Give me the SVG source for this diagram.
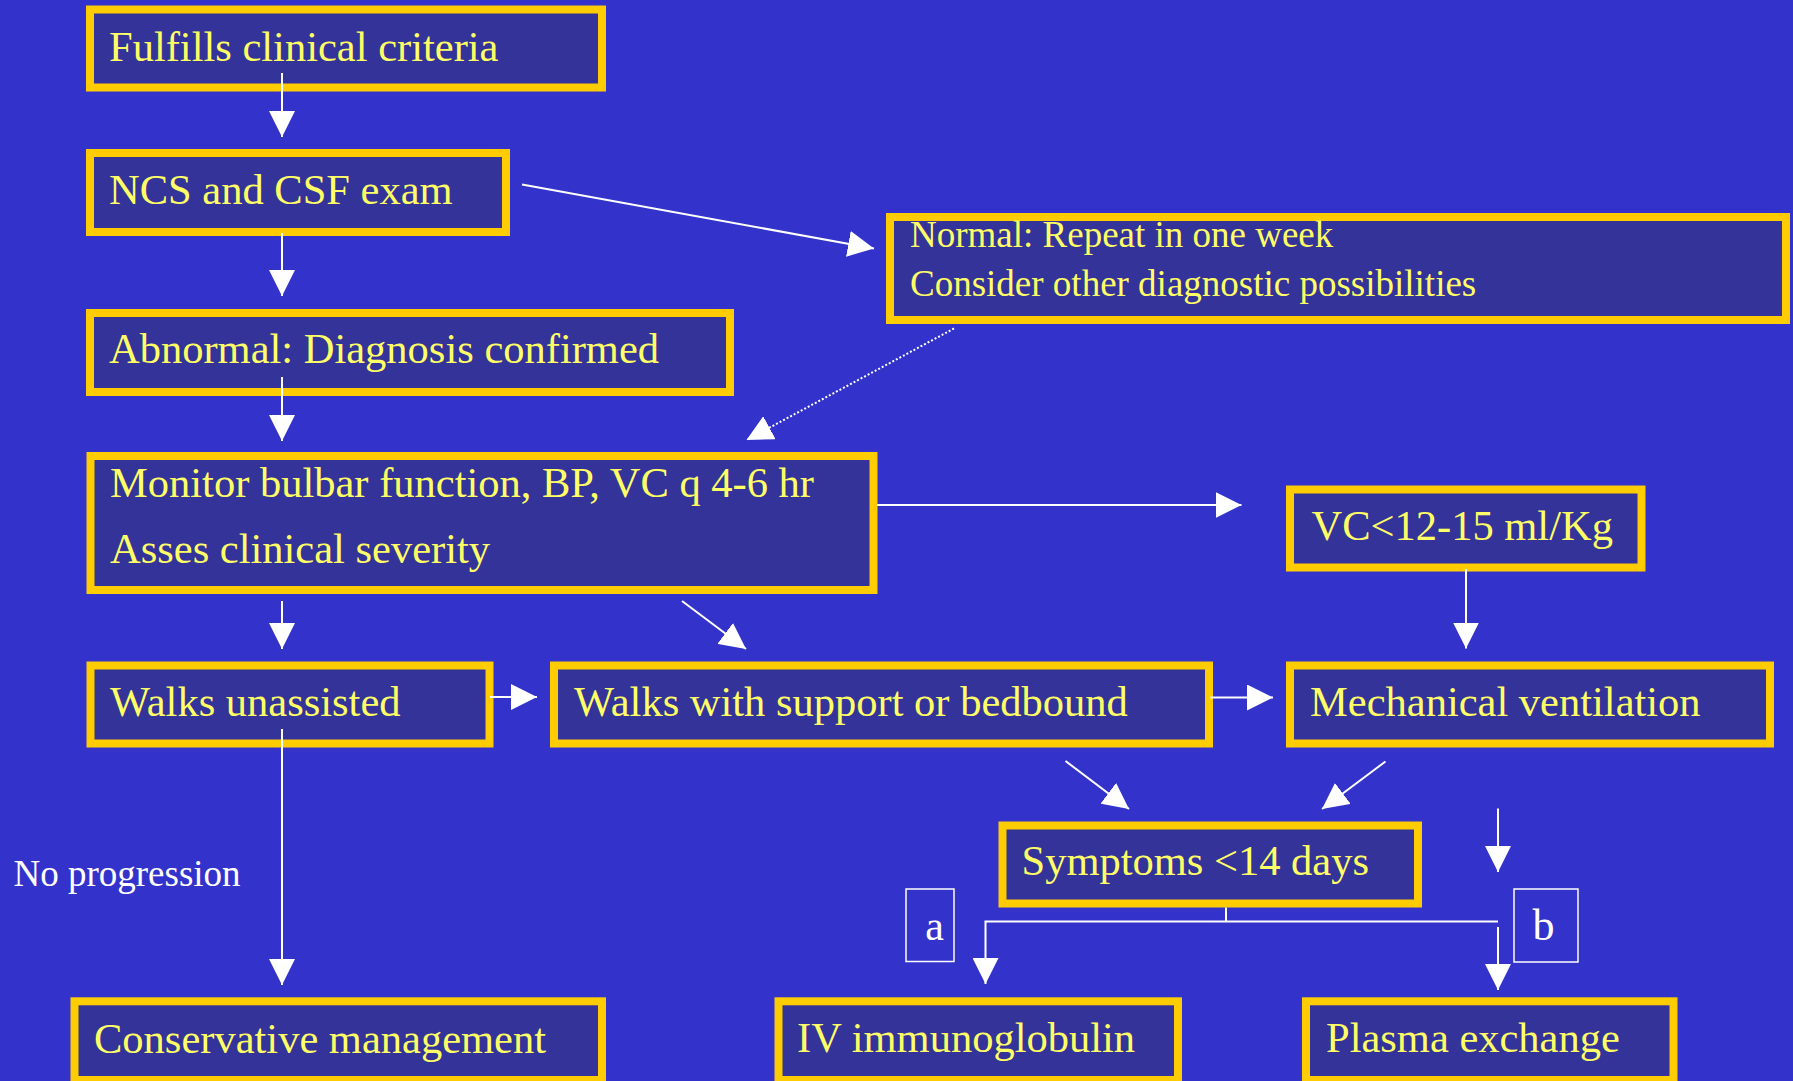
<svg xmlns="http://www.w3.org/2000/svg" width="1793" height="1081" viewBox="0 0 1793 1081">
<defs>
<style>
.box{fill:#333399;stroke:#FFCC00;stroke-width:8}
.t{font-family:"Liberation Serif","Times New Roman",serif;font-size:42.5px;fill:#FFFF66}
.ts{font-family:"Liberation Serif","Times New Roman",serif;font-size:37px;fill:#FFFF66}
.w{font-family:"Liberation Serif","Times New Roman",serif;fill:#FFFFFF}
.c{stroke:#FFFFFF;stroke-width:2;fill:none}
.lab{fill:none;stroke:#FFFFFF;stroke-width:1.5}
</style>
<marker id="ah" viewBox="0 0 26 26" refX="26" refY="13" markerWidth="26" markerHeight="26" markerUnits="userSpaceOnUse" orient="auto">
<path d="M0,0 L26,13 L0,26 z" fill="#FFFFFF"/>
</marker>
</defs>
<rect x="0" y="0" width="1793" height="1081" fill="#3333CC"/>

<g id="n-fulfills"><rect class="box" x="90" y="9.5" width="512" height="78"/><text class="t" x="109" y="61">Fulfills clinical criteria</text></g>
<g id="n-ncs"><rect class="box" x="90" y="153" width="416" height="79"/><text class="t" x="109" y="204">NCS and CSF exam</text></g>
<g id="n-normal"><rect class="box" x="890" y="217" width="896" height="103"/><text class="ts" x="910" y="246.5">Normal: Repeat in one week</text><text class="ts" x="910" y="296">Consider other diagnostic possibilities</text></g>
<g id="n-abnormal"><rect class="box" x="90" y="313" width="640" height="79"/><text class="t" x="109" y="363">Abnormal: Diagnosis confirmed</text></g>
<g id="n-monitor"><rect class="box" x="90.5" y="456" width="783" height="134"/><text class="t" x="110" y="497">Monitor bulbar function, BP, VC q 4-6 hr</text><text class="t" x="110" y="562.5">Asses clinical severity</text></g>
<g id="n-vc"><rect class="box" x="1290" y="489.5" width="351.5" height="78"/><text class="t" x="1311.5" y="540">VC&lt;12-15 ml/Kg</text></g>
<g id="n-walks-unassisted"><rect class="box" x="90.5" y="665.5" width="399" height="78"/><text class="t" x="110" y="715.5">Walks unassisted</text></g>
<g id="n-walks-support"><rect class="box" x="554" y="665.5" width="655" height="78"/><text class="t" x="574" y="716">Walks with support or bedbound</text></g>
<g id="n-mech"><rect class="box" x="1290" y="665.5" width="480" height="78"/><text class="t" x="1310" y="716">Mechanical ventilation</text></g>
<g id="n-symptoms"><rect class="box" x="1002.5" y="825.5" width="415.5" height="78"/><text class="t" x="1021.5" y="875">Symptoms &lt;14 days</text></g>
<g id="n-conservative"><rect class="box" x="74.5" y="1001.3" width="527.5" height="78.7"/><text class="t" x="94" y="1052.5">Conservative management</text></g>
<g id="n-ivig"><rect class="box" x="778.5" y="1001.3" width="399.5" height="78.7"/><text class="t" x="797" y="1052">IV immunoglobulin</text></g>
<g id="n-plasma"><rect class="box" x="1306" y="1001.3" width="367.5" height="78.7"/><text class="t" x="1326" y="1052">Plasma exchange</text></g>

<g id="n-noprog"><text class="w" x="13.5" y="886" font-size="37">No progression</text></g>
<g id="n-a"><rect class="lab" x="906" y="889" width="48" height="72.5"/><text class="w" x="934.5" y="940" font-size="42" text-anchor="middle">a</text></g>
<g id="n-b"><rect class="lab" x="1514" y="889" width="64" height="73"/><text class="w" x="1543.5" y="939.5" font-size="44" text-anchor="middle">b</text></g>

<g id="connectors">
<line class="c" x1="282" y1="73" x2="282" y2="137" marker-end="url(#ah)"/>
<line class="c" x1="282" y1="233" x2="282" y2="296" marker-end="url(#ah)"/>
<line class="c" x1="522" y1="184.5" x2="874" y2="248.5" marker-end="url(#ah)"/>
<line class="c" x1="282" y1="377" x2="282" y2="441" marker-end="url(#ah)"/>
<line x1="954" y1="328.5" x2="746.5" y2="440" stroke="#FFFFFF" stroke-width="2" stroke-dasharray="2,2" marker-end="url(#ah)"/>
<line class="c" x1="877" y1="505" x2="1241.5" y2="505" marker-end="url(#ah)"/>
<line class="c" x1="282" y1="601" x2="282" y2="649" marker-end="url(#ah)"/>
<line class="c" x1="682" y1="601" x2="746" y2="649" marker-end="url(#ah)"/>
<line class="c" x1="1466" y1="569" x2="1466" y2="648.5" marker-end="url(#ah)"/>
<line class="c" x1="490" y1="697" x2="537" y2="697" marker-end="url(#ah)"/>
<line class="c" x1="1210.5" y1="697.5" x2="1273" y2="697.5" marker-end="url(#ah)"/>
<line class="c" x1="282" y1="729" x2="282" y2="985" marker-end="url(#ah)"/>
<line class="c" x1="1065.5" y1="761" x2="1129" y2="809" marker-end="url(#ah)"/>
<line class="c" x1="1385.5" y1="761.5" x2="1322" y2="809" marker-end="url(#ah)"/>
<line class="c" x1="1498" y1="808.5" x2="1498" y2="872" marker-end="url(#ah)"/>
<line class="c" x1="1226" y1="907.5" x2="1226" y2="922" stroke-width="1.5"/>
<polyline class="c" points="1498,921.5 985.5,921.5 985.5,984" stroke-width="1.8" marker-end="url(#ah)"/>
<line class="c" x1="1498" y1="927" x2="1498" y2="990" marker-end="url(#ah)"/>
</g>
</svg>
